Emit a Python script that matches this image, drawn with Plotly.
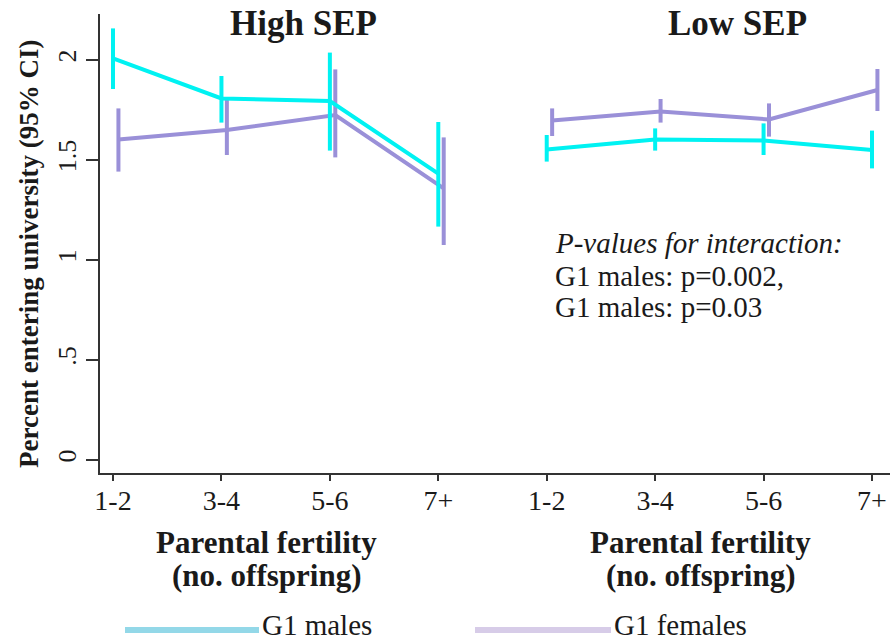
import plotly.graph_objects as go

# Parental fertility groups (number of offspring)
categories = ["1-2", "3-4", "5-6", "7+"]
panels = ["High SEP", "Low SEP"]

# Percent entering university, point estimate with 95% CI bounds
males_high = [2.008, 1.808, 1.795, 1.432]
males_high_lo = [1.855, 1.687, 1.547, 1.167]
males_high_hi = [2.158, 1.920, 2.037, 1.690]

females_high = [1.603, 1.650, 1.725, 1.358]
females_high_lo = [1.442, 1.525, 1.513, 1.075]
females_high_hi = [1.758, 1.800, 1.953, 1.613]

males_low = [1.553, 1.603, 1.597, 1.550]
males_low_lo = [1.492, 1.547, 1.525, 1.458]
males_low_hi = [1.625, 1.658, 1.683, 1.647]

females_low = [1.697, 1.742, 1.703, 1.850]
females_low_lo = [1.620, 1.687, 1.617, 1.745]
females_low_hi = [1.758, 1.805, 1.783, 1.955]

pvalue_lines = ["<i>P-values for interaction:</i>",
                "G1 males: p=0.002,",
                "G1 males: p=0.03"]

MALE_COLOR = "#00F2F2"
FEMALE_COLOR = "#9A90D8"
MALE_KEY = "#93D8E8"
FEMALE_KEY = "#D7CCE8"
SERIF = "Liberation Serif, Times New Roman, serif"
INK = "#1a1a1a"
FEMALE_SHIFT = 0.05  # small horizontal dodge so the CIs don't overlap

fig = go.Figure()


def add_series(offset, mean, lo, hi, color, shift):
    xs = [offset + i + shift for i in range(len(categories))]
    fig.add_trace(go.Scatter(
        x=xs, y=mean, mode="lines",
        line=dict(color=color, width=4),
        error_y=dict(type="data", symmetric=False,
                     array=[h - m for h, m in zip(hi, mean)],
                     arrayminus=[m - l for m, l in zip(mean, lo)],
                     color=color, thickness=4, width=0),
        showlegend=False, hoverinfo="skip"))


for offset, (m, mlo, mhi, f, flo, fhi) in zip(
        [0, 4],
        [(males_high, males_high_lo, males_high_hi,
          females_high, females_high_lo, females_high_hi),
         (males_low, males_low_lo, males_low_hi,
          females_low, females_low_lo, females_low_hi)]):
    add_series(offset, f, flo, fhi, FEMALE_COLOR, FEMALE_SHIFT)
    add_series(offset, m, mlo, mhi, MALE_COLOR, 0.0)

annotations = []
# Panel headings
for offset, name in zip([0, 4], panels):
    annotations.append(dict(
        x=offset + 1.76, y=2.185, xref="x", yref="y", text="<b>%s</b>" % name,
        showarrow=False, yanchor="middle",
        font=dict(family=SERIF, size=35, color=INK)))
    # x-axis title under each panel
    annotations.append(dict(
        x=offset + 1.42, y=542, xref="x", yref="paper", showarrow=False,
        yanchor="middle",
        text="<b>Parental fertility</b>", font=dict(family=SERIF, size=31, color=INK)))
    annotations.append(dict(
        x=offset + 1.42, y=575, xref="x", yref="paper", showarrow=False,
        yanchor="middle",
        text="<b>(no. offspring)</b>", font=dict(family=SERIF, size=31, color=INK)))

# Y-axis title
annotations.append(dict(
    x=29, y=254, xref="paper", yref="paper", showarrow=False, textangle=-90,
    xanchor="center", yanchor="middle",
    text="<b>Percent entering university (95% CI)</b>",
    font=dict(family=SERIF, size=27, color=INK)))

# Interaction p-values
for txt, ypx in zip(pvalue_lines, [243, 276, 307]):
    annotations.append(dict(
        x=553, y=ypx, xref="paper", yref="paper", text=txt, showarrow=False,
        xanchor="left", yanchor="middle",
        font=dict(family=SERIF, size=29, color=INK)))

# Legend keys
legend_items = [("G1 males", MALE_KEY, 125, 259), ("G1 females", FEMALE_KEY, 475, 611)]
shapes = []
for label, col, x0, x1 in legend_items:
    shapes.append(dict(type="line", xref="paper", yref="paper",
                       x0=x0, x1=x1, y0=630, y1=630,
                       line=dict(color=col, width=6)))
    annotations.append(dict(
        x=x1 + 1, y=625, xref="paper", yref="paper", text=label, showarrow=False,
        xanchor="left", yanchor="middle",
        font=dict(family=SERIF, size=29, color=INK)))

# Convert pixel positions of the layout helpers to paper coordinates
W, H = 890, 641
ML, MR, MT, MB = 100, 0, 14, 168
PW, PH = W - ML - MR, H - MT - MB
for a in annotations:
    if a["xref"] == "paper":
        a["x"] = (a["x"] - ML) / PW
    if a["yref"] == "paper":
        a["y"] = (H - MB - a["y"]) / PH
for s in shapes:
    s["x0"] = (s["x0"] - ML) / PW
    s["x1"] = (s["x1"] - ML) / PW
    s["y0"] = (H - MB - s["y0"]) / PH
    s["y1"] = (H - MB - s["y1"]) / PH

fig.update_layout(
    width=W, height=H,
    margin=dict(l=ML, r=MR, t=MT, b=MB, pad=0),
    paper_bgcolor="white", plot_bgcolor="white",
    showlegend=False,
    annotations=annotations, shapes=shapes,
    xaxis=dict(
        range=[-0.12, 7.166],
        tickmode="array", tickvals=list(range(8)), ticktext=categories * 2,
        showgrid=False, zeroline=False,
        showline=True, linecolor="#333333", linewidth=2,
        ticks="outside", ticklen=6, tickwidth=2, tickcolor="#333333",
        ticklabelstandoff=-5,
        tickfont=dict(family=SERIF, size=28, color=INK)),
    yaxis=dict(
        range=[-0.065, 2.23],
        tickmode="array", tickvals=[0, 0.5, 1, 1.5, 2],
        ticktext=["0", ".5", "1", "1.5", "2"],
        tickangle=-90,
        showgrid=False, zeroline=False,
        showline=True, linecolor="#333333", linewidth=2,
        ticks="outside", ticklen=12, tickwidth=2, tickcolor="#333333",
        ticklabelstandoff=0,
        tickfont=dict(family=SERIF, size=26, color=INK)),
)

fig.write_html("out.html")
